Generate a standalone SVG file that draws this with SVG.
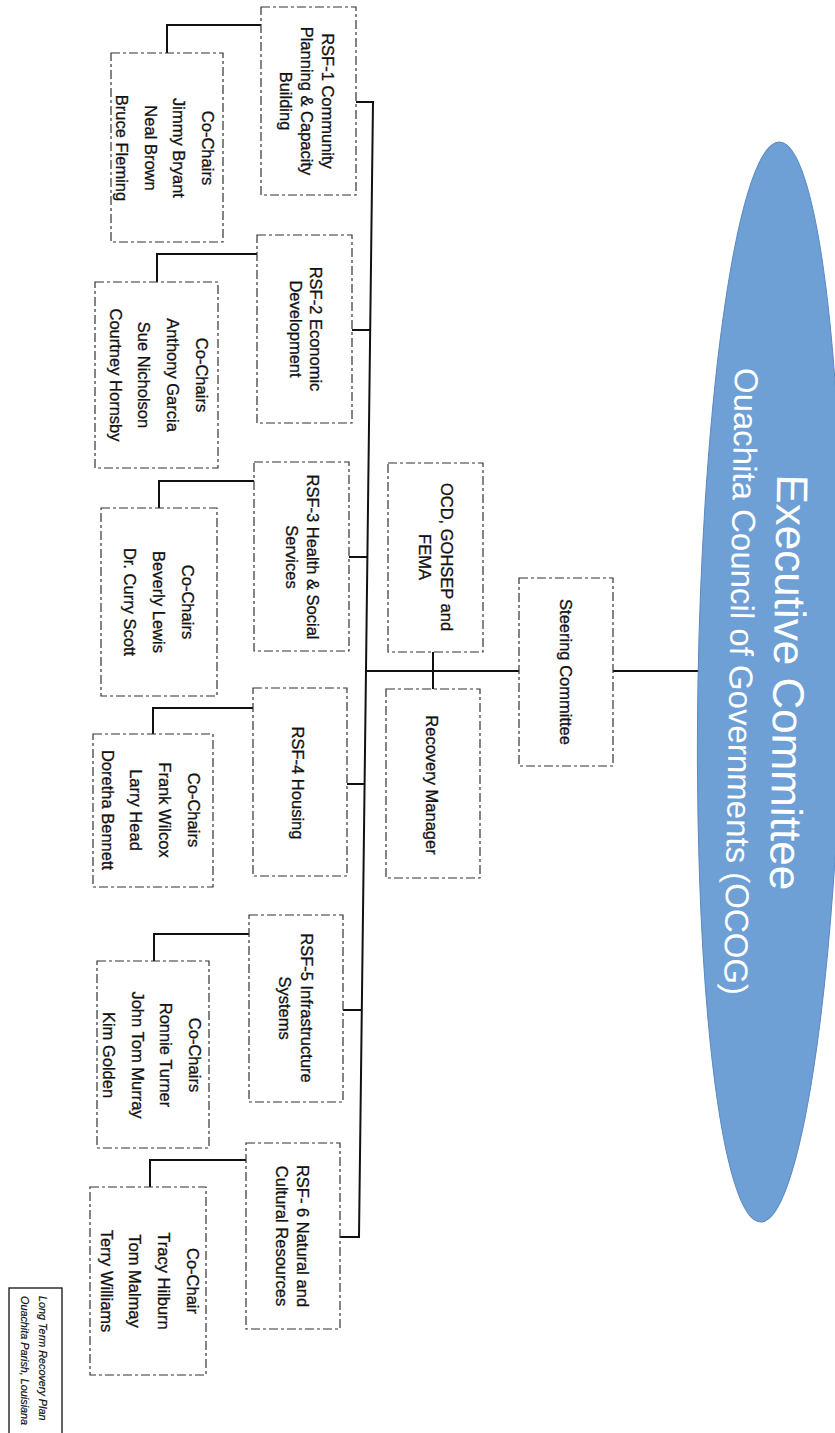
<svg xmlns="http://www.w3.org/2000/svg" width="835" height="1433" viewBox="0 0 835 1433">
<style>
.box{fill:#fff;stroke:#333;stroke-width:1.2;stroke-dasharray:9 3 3 3}
.t{font-family:"Liberation Sans",Arial,sans-serif;font-size:16.5px;fill:#111;stroke:#111;stroke-width:0.3;text-anchor:middle;dominant-baseline:central}
.c{fill:none;stroke:#111;stroke-width:2}
.ct{font-family:"Liberation Sans",Arial,sans-serif;fill:#fff;text-anchor:middle;dominant-baseline:central}
.lbl{font-family:"Liberation Sans",Arial,sans-serif;font-size:10.8px;font-style:italic;fill:#111;stroke:#111;stroke-width:0.2;dominant-baseline:central}
</style>
<rect x="0" y="0" width="835" height="1433" fill="#fff"/>

<g id="connectors">
<polyline class="c" points="356,102 373,102 359,1237 340,1237"/>
<line class="c" x1="352" y1="330" x2="370" y2="330"/>
<line class="c" x1="349" y1="557" x2="367.5" y2="557"/>
<line class="c" x1="347" y1="784" x2="364.5" y2="784"/>
<line class="c" x1="343" y1="1010" x2="362" y2="1010"/>
<line class="c" x1="519" y1="671" x2="366" y2="671"/>
<line class="c" x1="433" y1="652" x2="433" y2="689"/>
<line class="c" x1="613" y1="671" x2="706" y2="671" stroke-width="3.5"/>
<path class="c" d="M261,25 H167 V53"/>
<path class="c" d="M257,254 H157 V282"/>
<path class="c" d="M254,481 H159 V508"/>
<path class="c" d="M253,708 H153 V734"/>
<path class="c" d="M249,934 H154 V961"/>
<path class="c" d="M246,1160 H150 V1187"/>
</g>

<g id="executive" transform="rotate(1 770 682)">
<ellipse cx="770" cy="682" rx="72" ry="540" fill="#6e9fd5" stroke="#5b89c1" stroke-width="1"/>
<text class="ct" font-size="44" transform="translate(789,682) rotate(90)">Executive Committee</text>
<text class="ct" font-size="33" transform="translate(741,682) rotate(90)">Ouachita Council of Governments (OCOG)</text>
</g>

<g id="steering">
<rect class="box" x="519" y="578" width="94" height="188"/>
<text class="t" transform="translate(566,672) rotate(90)">Steering Committee</text>
</g>

<g id="ocd">
<rect class="box" x="388" y="463" width="95" height="189"/>
<text class="t" transform="translate(436,557) rotate(90)"><tspan x="0" y="-11">OCD, GOHSEP and</tspan><tspan x="0" y="11">FEMA</tspan></text>
</g>

<g id="recovery-manager">
<rect class="box" x="386" y="689" width="94" height="189"/>
<text class="t" transform="translate(432,785) rotate(90)">Recovery Manager</text>
</g>

<g id="rsf1">
<rect class="box" x="261" y="7" width="95" height="188"/>
<text class="t" transform="translate(307,101) rotate(90)"><tspan x="0" y="-21">RSF-1 Community</tspan><tspan x="0" y="0">Planning &amp; Capacity</tspan><tspan x="0" y="21">Building</tspan></text>
</g>
<g id="cochairs1">
<rect class="box" x="111" y="53" width="112" height="189"/>
<text class="t" transform="translate(165,148) rotate(90)"><tspan x="0" y="-43">Co-Chairs</tspan><tspan x="0" y="-14.3">Jimmy Bryant</tspan><tspan x="0" y="14.3">Neal Brown</tspan><tspan x="0" y="43">Bruce Fleming</tspan></text>
</g>

<g id="rsf2">
<rect class="box" x="257" y="235" width="95" height="188"/>
<text class="t" transform="translate(305.5,329) rotate(90)"><tspan x="0" y="-10">RSF-2 Economic</tspan><tspan x="0" y="10">Development</tspan></text>
</g>
<g id="cochairs2">
<rect class="box" x="95" y="282" width="123" height="186"/>
<text class="t" transform="translate(158.5,375) rotate(90)"><tspan x="0" y="-43">Co-Chairs</tspan><tspan x="0" y="-14.3">Anthony Garcia</tspan><tspan x="0" y="14.3">Sue Nicholson</tspan><tspan x="0" y="43">Courtney Hornsby</tspan></text>
</g>

<g id="rsf3">
<rect class="box" x="254" y="462" width="95" height="189"/>
<text class="t" transform="translate(302.5,557) rotate(90)"><tspan x="0" y="-10.5">RSF-3 Health &amp; Social</tspan><tspan x="0" y="10.5">Services</tspan></text>
</g>
<g id="cochairs3">
<rect class="box" x="101" y="508" width="116" height="188"/>
<text class="t" transform="translate(159,602) rotate(90)"><tspan x="0" y="-29">Co-Chairs</tspan><tspan x="0" y="0">Beverly Lewis</tspan><tspan x="0" y="29">Dr. Curry Scott</tspan></text>
</g>

<g id="rsf4">
<rect class="box" x="253" y="688" width="94" height="188"/>
<text class="t" transform="translate(298,783) rotate(90)">RSF-4 Housing</text>
</g>
<g id="cochairs4">
<rect class="box" x="93" y="734" width="120" height="153"/>
<text class="t" transform="translate(150.5,810) rotate(90)"><tspan x="0" y="-43">Co-Chairs</tspan><tspan x="0" y="-14.3">Frank Wilcox</tspan><tspan x="0" y="14.3">Larry Head</tspan><tspan x="0" y="43">Doretha Bennett</tspan></text>
</g>

<g id="rsf5">
<rect class="box" x="249" y="915" width="94" height="187"/>
<text class="t" transform="translate(296,1008) rotate(90)"><tspan x="0" y="-11">RSF-5 Infrastructure</tspan><tspan x="0" y="11">Systems</tspan></text>
</g>
<g id="cochairs5">
<rect class="box" x="97" y="961" width="112" height="187"/>
<text class="t" transform="translate(152,1055) rotate(90)"><tspan x="0" y="-43">Co-Chairs</tspan><tspan x="0" y="-14.3">Ronnie Turner</tspan><tspan x="0" y="14.3">John Tom Murray</tspan><tspan x="0" y="43">Kim Golden</tspan></text>
</g>

<g id="rsf6">
<rect class="box" x="246" y="1143" width="94" height="186"/>
<text class="t" transform="translate(292.5,1236) rotate(90)"><tspan x="0" y="-10.5">RSF- 6 Natural and</tspan><tspan x="0" y="10.5">Cultural Resources</tspan></text>
</g>
<g id="cochairs6">
<rect class="box" x="90" y="1187" width="116" height="188"/>
<text class="t" transform="translate(149.5,1281) rotate(90)"><tspan x="0" y="-43">Co-Chair</tspan><tspan x="0" y="-14.3">Tracy Hilburn</tspan><tspan x="0" y="14.3">Tom Malmay</tspan><tspan x="0" y="43">Terry Williams</tspan></text>
</g>

<g id="footer-label">
<rect x="9" y="1288" width="53" height="160" fill="none" stroke="#222" stroke-width="1.4"/>
<text class="lbl" transform="translate(43,1296) rotate(90)">Long Term Recovery Plan</text>
<text class="lbl" transform="translate(25,1296) rotate(90)">Ouachita Parish, Louisiana</text>
</g>
</svg>
